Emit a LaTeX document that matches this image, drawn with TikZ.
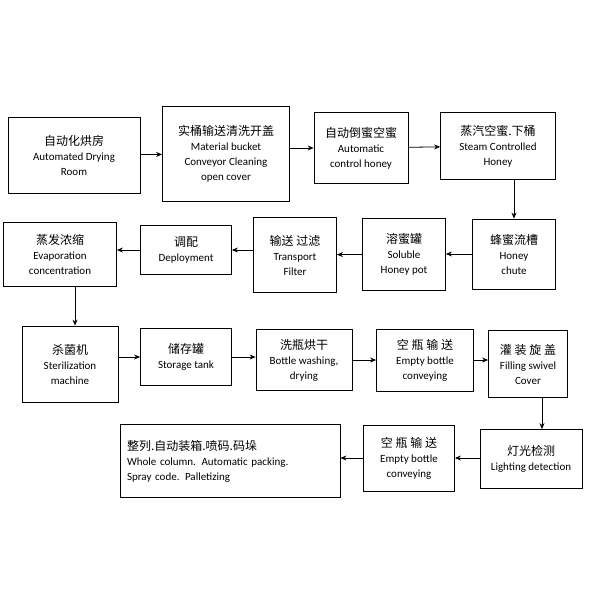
\documentclass[tikz,border=0pt]{standalone}
\usepackage{fontspec}
\setmainfont{Carlito}
\newfontfamily\cjk{Noto Sans CJK SC}
\usetikzlibrary{arrows.meta,positioning}

\tikzset{
  box/.style={draw,thick,align=center,inner sep=1pt,font=\fontsize{11}{15}\selectfont},
  flow/.style={-{Stealth[length=6pt,width=5pt]},thick}
}
\newcommand{\zh}[1]{{\cjk\fontsize{12}{16}\selectfont #1}}

\begin{document}
\begin{tikzpicture}[x=1pt,y=-1pt]
\useasboundingbox (0,0) rectangle (600,600);
% row 1
\node[box,minimum width=132,minimum height=76] (dry) at (74,155) {\zh{自动化烘房}\\Automated Drying\\Room};
\node[box,minimum width=127,minimum height=95] (bucket) at (226,154) {\zh{实桶输送清洗开盖}\\Material bucket\\Conveyor Cleaning\\open cover};
\node[box,minimum width=94,minimum height=71] (pour) at (361,148) {\zh{自动倒蜜空蜜}\\Automatic\\control honey};
\node[box,minimum width=115,minimum height=67] (steam) at (498,146) {\zh{蒸汽空蜜.下桶}\\Steam Controlled\\Honey};
% row 2
\node[box,minimum width=83,minimum height=70] (chute) at (514,254) {\zh{蜂蜜流槽}\\Honey\\chute};
\node[box,minimum width=83,minimum height=72] (pot) at (404,254) {\zh{溶蜜罐}\\Soluble\\Honey pot};
\node[box,minimum width=83,minimum height=75] (filter) at (295,255) {\zh{输送 过滤}\\Transport\\Filter};
\node[box,minimum width=91,minimum height=49] (deploy) at (186,250) {\zh{调配}\\Deployment};
\node[box,minimum width=113,minimum height=64] (evap) at (60,254) {\zh{蒸发浓缩}\\Evaporation\\concentration};
% row 3
\node[box,minimum width=96,minimum height=76] (steril) at (70,364) {\zh{杀菌机}\\Sterilization\\machine};
\node[box,minimum width=91,minimum height=57] (tank) at (186,357) {\zh{储存罐}\\Storage tank};
\node[box,minimum width=96,minimum height=61] (wash) at (304,360) {\zh{洗瓶烘干}\\Bottle washing,\\drying};
\node[box,minimum width=97,minimum height=62] (empty) at (425,360) {\zh{空 瓶 输 送}\\Empty bottle\\conveying};
\node[box,minimum width=79,minimum height=67] (fill) at (528,364) {\zh{灌 装 旋 盖}\\Filling swivel\\Cover};
% row 4
\node[box,minimum width=102,minimum height=59] (light) at (531,459) {\zh{灯光检测}\\Lighting detection};
\node[box,minimum width=91,minimum height=66] (empty2) at (409,458) {\zh{空 瓶 输 送}\\Empty bottle\\conveying};
\node[box,minimum width=220,minimum height=73,align=left,text width=206] (pack) at (230,461) {\zh{整列.自动装箱.喷码.码垛}\\Whole column. Automatic packing.\\Spray code. Palletizing};
% connectors
\draw[flow] (dry) -- (bucket);
\draw[flow] (bucket.east |- pour) -- (pour);
\draw[flow] (pour) -- (steam);
\draw[flow] (steam.south -| chute.north) -- (chute);
\draw[flow] (chute) -- (pot);
\draw[flow] (pot) -- (filter);
\draw[flow] (filter.west |- deploy) -- (deploy);
\draw[flow] (deploy.west) -- (evap.east |- deploy);
\draw[flow] (evap.south -| 75,0) -- (steril.north -| 75,0);
\draw[flow] (steril.east |- tank) -- (tank);
\draw[flow] (tank) -- (wash.west |- tank);
\draw[flow] (wash) -- (empty);
\draw[flow] (empty) -- (fill.west |- empty);
\draw[flow] (fill.south -| 542,0) -- (light.north -| 542,0);
\draw[flow] (light.west |- empty2) -- (empty2);
\draw[flow] (empty2) -- (pack.east |- empty2);
\end{tikzpicture}
\end{document}
